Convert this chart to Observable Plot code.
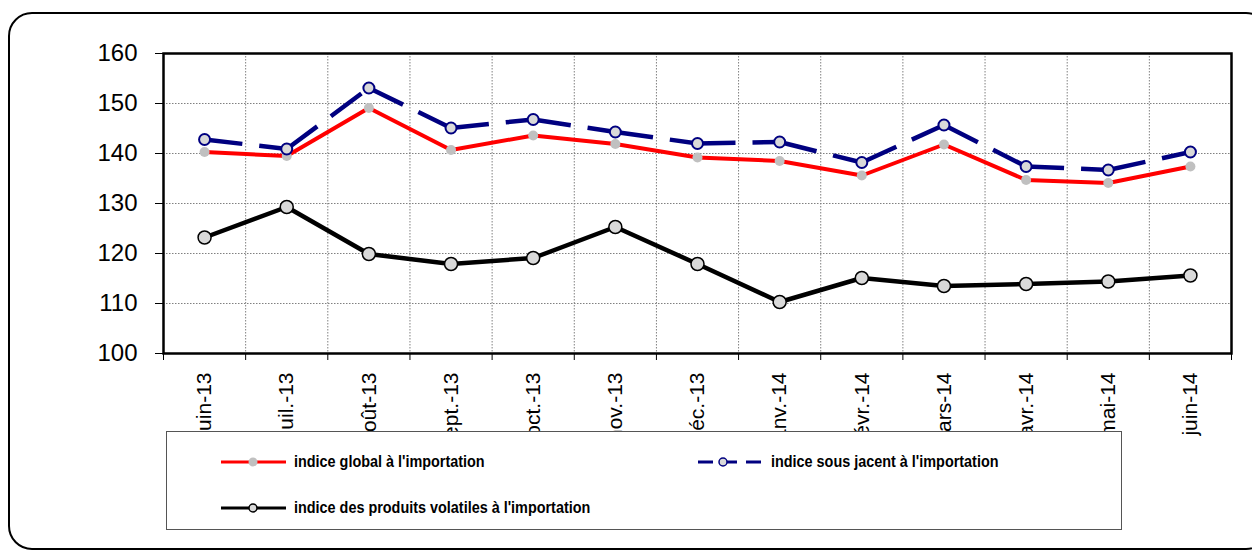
<!DOCTYPE html>
<html><head><meta charset="utf-8">
<script src="https://cdn.jsdelivr.net/npm/d3@7"></script>
<script src="https://cdn.jsdelivr.net/npm/@observablehq/plot@0.6"></script>
<style>
body{margin:0;background:#fff;}
#wrap{position:relative;width:1252px;height:551px;overflow:hidden;font-family:"Liberation Sans",Arial,sans-serif;}
#frame{position:absolute;left:8px;top:12px;width:1262px;height:538px;border:2px solid #000;border-radius:24px;box-sizing:border-box;}
#chart{position:absolute;left:0;top:0;}
#legend{position:absolute;left:166px;top:431px;width:956px;height:99px;border:1px solid #555;background:#fff;box-sizing:border-box;}
.item{position:absolute;height:20px;display:flex;align-items:center;}
.item svg{display:block;}
.item span{font-family:"Liberation Sans",Arial,sans-serif;font-weight:bold;font-size:16px;margin-left:8px;white-space:nowrap;color:#000;display:inline-block;transform:scaleX(0.9);transform-origin:left center;}
</style>
</head><body>
<div id="wrap">
  <div id="frame"></div>
  <div id="chart"></div>
  <div id="legend"></div>
</div>
<script>
const months = ["juin-13","juil.-13","août-13","sept.-13","oct.-13","nov.-13","déc.-13","janv.-14","févr.-14","mars-14","avr.-14","mai-14","juin-14"];
const indiceGlobal = [140.3, 139.5, 149.1, 140.7, 143.6, 141.9, 139.2, 138.5, 135.6, 141.8, 134.7, 134.1, 137.4];
const indiceSousJacent = [142.8, 140.9, 153.1, 145.1, 146.8, 144.3, 142.0, 142.3, 138.2, 145.7, 137.4, 136.7, 140.3];
const indiceVolatiles = [123.2, 129.3, 119.9, 117.9, 119.1, 125.3, 117.9, 110.3, 115.1, 113.5, 113.9, 114.4, 115.6];
const yTicks = [100, 110, 120, 130, 140, 150, 160];
const seriesNames = ["indice global à l'importation", "indice sous jacent à l'importation", "indice des produits volatiles à l'importation"];

const rows = months.map((m, i) => ({i, month: m, global: indiceGlobal[i], sous: indiceSousJacent[i], vol: indiceVolatiles[i]}));
const pairs = d3.pairs(rows);
const bounds = d3.range(months.length + 1).map(k => k - 0.5);
const gridStyle = {stroke: "#808080", strokeOpacity: 1, strokeWidth: 1, strokeDasharray: "1.5,1.5"};

const chart = Plot.plot({
  width: 1252, height: 551,
  marginLeft: 163, marginRight: 21, marginTop: 53, marginBottom: 198,
  x: {type: "linear", domain: [-0.5, months.length - 0.5]},
  y: {domain: [100, 160]},
  style: {fontFamily: "'Liberation Sans', Arial, sans-serif", background: "transparent", color: "#000"},
  marks: [
    Plot.ruleY(yTicks.slice(1, -1), gridStyle),
    Plot.ruleX(bounds.slice(1, -1), gridStyle),
    Plot.axisY({ticks: yTicks, tickSize: 8, tickPadding: 18, fontSize: 24, label: null, tickFormat: d => String(d)}),
    Plot.axisX({ticks: bounds, tickSize: 7, tickFormat: () => "", label: null}),
    Plot.axisX({ticks: d3.range(months.length), tickSize: 0, tickPadding: 19, tickRotate: -90, tickFormat: i => months[i], fontSize: 21, label: null}),
    Plot.line(rows, {x: "i", y: "global", stroke: "#ff0000", strokeWidth: 4}),
    Plot.dot(rows, {x: "i", y: "global", r: 5, fill: "#c0c0c0"}),
    Plot.link(pairs, {x1: d => d[0].i, y1: d => d[0].sous, x2: d => d[1].i, y2: d => d[1].sous, stroke: "#000080", strokeWidth: 4.5, strokeDasharray: "38,17"}),
    Plot.dot(rows, {x: "i", y: "sous", r: 5.5, fill: "#d9d9d9", stroke: "#000080", strokeWidth: 2}),
    Plot.line(rows, {x: "i", y: "vol", stroke: "#000", strokeWidth: 4.5}),
    Plot.dot(rows, {x: "i", y: "vol", r: 6.5, fill: "#d9d9d9", stroke: "#000", strokeWidth: 1.5}),
    Plot.frame({stroke: "#000", strokeWidth: 2.5})
  ]
});
document.getElementById("chart").appendChild(chart);

// legend
const legend = document.getElementById("legend");
function sample(kind) {
  const ns = "http://www.w3.org/2000/svg";
  const svg = document.createElementNS(ns, "svg");
  svg.setAttribute("width", 65); svg.setAttribute("height", 16);
  let html = "";
  if (kind === 0) {
    html = '<line x1="0" y1="8" x2="65" y2="8" stroke="#ff0000" stroke-width="3"/><circle cx="32" cy="8" r="4.5" fill="#c0c0c0"/>';
  } else if (kind === 1) {
    html = '<line x1="0" y1="8" x2="65" y2="8" stroke="#000080" stroke-width="3" stroke-dasharray="15,9"/><circle cx="25" cy="8" r="4" fill="#d9d9d9" stroke="#000080" stroke-width="1.5"/>';
  } else {
    html = '<line x1="0" y1="8" x2="65" y2="8" stroke="#000" stroke-width="3"/><circle cx="32" cy="8" r="4" fill="#d9d9d9" stroke="#000" stroke-width="1.5"/>';
  }
  svg.innerHTML = html;
  return svg;
}
const positions = [[54, 20], [531, 20], [54, 66]];
seriesNames.forEach((name, k) => {
  const div = document.createElement("div");
  div.className = "item";
  div.style.left = positions[k][0] + "px";
  div.style.top = positions[k][1] + "px";
  div.appendChild(sample(k));
  const span = document.createElement("span");
  span.textContent = name;
  div.appendChild(span);
  legend.appendChild(div);
});
</script>
</body></html>
